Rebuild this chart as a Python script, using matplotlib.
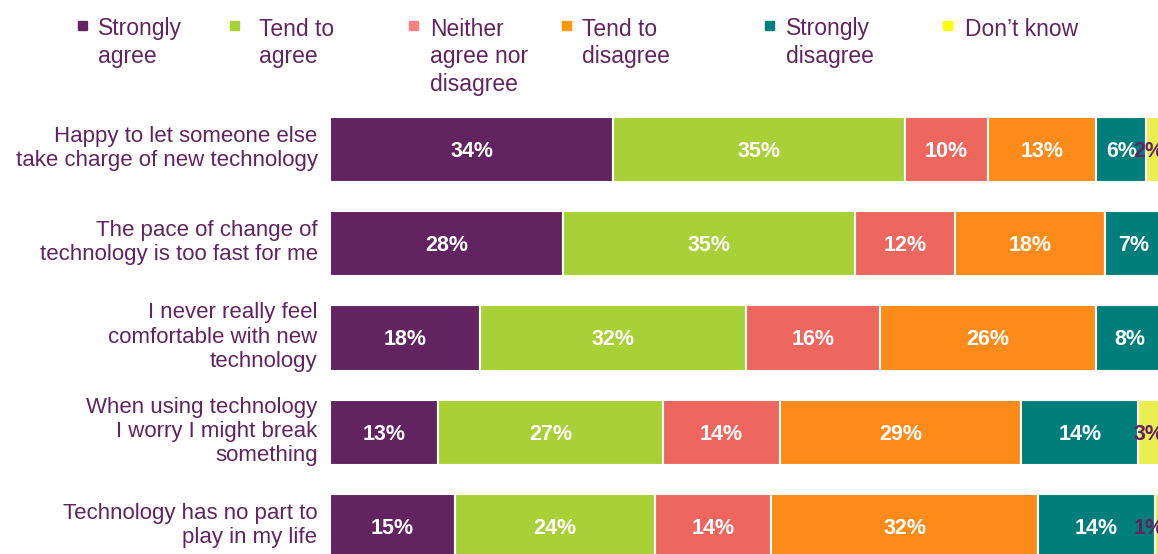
import matplotlib
matplotlib.use("Agg")
import matplotlib.pyplot as plt
import matplotlib.transforms as mtransforms
from matplotlib.patches import Rectangle

categories = [
    "Happy to let someone else\ntake charge of new technology",
    "The pace of change of\ntechnology is too fast for me",
    "I never really feel\ncomfortable with new\ntechnology",
    "When using technology\nI worry I might break\nsomething",
    "Technology has no part to\nplay in my life",
]
series_names = ["Strongly\nagree", "Tend to\nagree", "Neither\nagree nor\ndisagree",
                "Tend to\ndisagree", "Strongly\ndisagree", "Don\u2019t know"]
strongly_agree = [34, 28, 18, 13, 15]
tend_agree = [35, 35, 32, 27, 24]
neither = [10, 12, 16, 14, 14]
tend_disagree = [13, 18, 26, 29, 32]
strongly_disagree = [6, 7, 8, 14, 14]
dont_know = [2, 0, 0, 3, 1]

series = [strongly_agree, tend_agree, neither, tend_disagree, strongly_disagree, dont_know]
bar_colors = ["#622461", "#A8D137", "#EE675E", "#FD8B1A", "#007E7C", "#EAEE50"]
legend_colors = ["#622461", "#A9D036", "#FF8080", "#FF9900", "#008080", "#FFFF00"]
purple = "#622461"

W, H = 1158, 554
plt.rcParams['font.family'] = ['Liberation Sans', 'DejaVu Sans']
fig = plt.figure(figsize=(W / 100, H / 100), dpi=100)

# axes in pixel coords: x 330..1163, y 102..574 (from top)
x0, x1 = 330, 1163
y0, y1 = 102, 574
ax = fig.add_axes([x0 / W, (H - y1) / H, (x1 - x0) / W, (y1 - y0) / H])
ax.set_xlim(0, 100)
ax.set_ylim(len(categories) - 0.5, -0.5)

left = [0] * len(categories)
for si, (vals, col) in enumerate(zip(series, bar_colors)):
    ax.barh(range(len(categories)), vals, left=left, height=0.69, color=col,
            edgecolor="white", linewidth=1.5)
    for i, v in enumerate(vals):
        if v <= 0:
            continue
        if si == len(series) - 1:
            ax.text(left[i] + v - 1.7, i + 0.02, f"{v}%", ha="center", va="center",
                    color=purple, fontsize=15.5, fontweight="bold", clip_on=False)
        else:
            ax.text(left[i] + v / 2, i + 0.02, f"{v}%", ha="center", va="center",
                    color="white", fontsize=15.5, fontweight="bold")
    left = [l + v for l, v in zip(left, vals)]

for s in ["top", "right", "bottom", "left"]:
    ax.spines[s].set_visible(False)
ax.set_xticks([])
ax.set_yticks(range(len(categories)))
ax.set_yticklabels(categories, fontsize=16, color=purple, linespacing=1.2)
ax.tick_params(axis="y", length=0, pad=9)
shift = mtransforms.ScaledTranslation(0, 5 / 100, fig.dpi_scale_trans)
for lab in ax.get_yticklabels():
    lab.set_transform(lab.get_transform() + shift)

# legend
leg_marker_x = [78, 230, 409, 562, 765, 943]
leg_text_x = [98, 259, 430, 582, 786, 965]
for mx, tx, name, col in zip(leg_marker_x, leg_text_x, series_names, legend_colors):
    fig.patches.append(Rectangle((mx / W, (H - 30) / H), 9 / W, 9 / H,
                                 transform=fig.transFigure, color=col))
    fig.text(tx / W, (H - 17.5) / H, name, ha="left", va="top", fontsize=16.5,
             color=purple, linespacing=1.27)

fig.savefig("out.png", dpi=100)
